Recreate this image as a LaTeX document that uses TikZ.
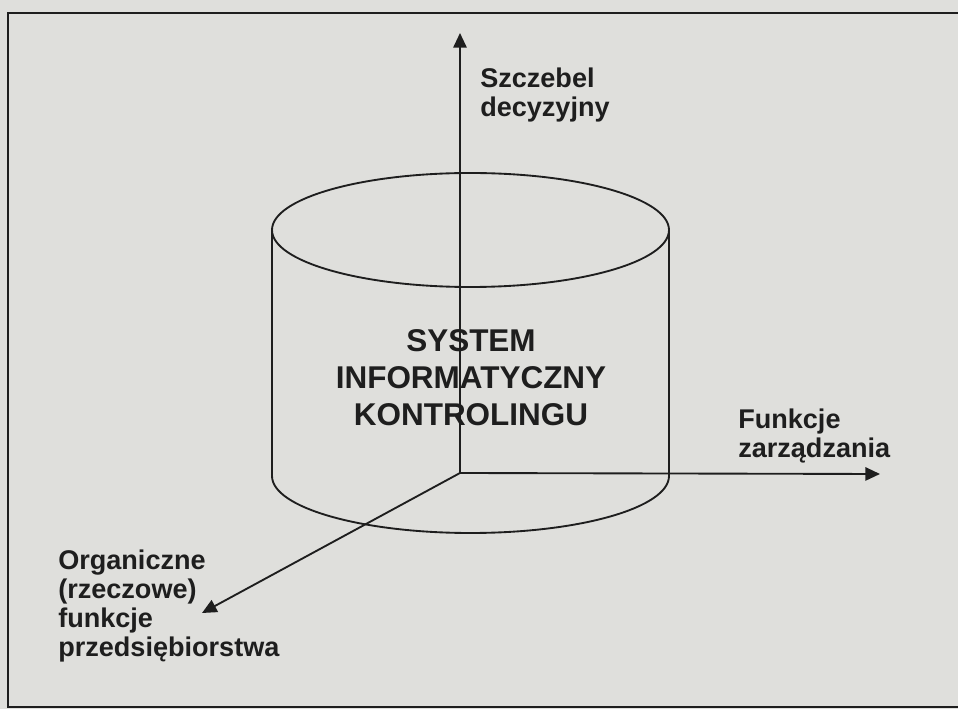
\documentclass[tikz,border=0pt]{standalone}
\usepackage{fontspec}
\setmainfont{Liberation Sans}
\usetikzlibrary{arrows.meta}
\definecolor{paper}{RGB}{223,223,220}
\definecolor{ink}{RGB}{30,30,30}
\tikzset{
  axis/.style={draw=ink, line width=1.4pt, -{Triangle[length=11pt,width=10pt]}},
  body/.style={draw=ink, line width=1.4pt},
  frameline/.style={draw=ink, line width=1.8pt},
  lbl/.style={text=ink, inner sep=0pt, align=left, font=\bfseries\fontsize{20.3}{21.8}\selectfont},
  title/.style={text=ink, inner sep=0pt, align=center, font=\bfseries\fontsize{23.6}{27.8}\selectfont}
}
\begin{document}
\begin{tikzpicture}[x=0.75pt, y=-0.75pt]
  % page and frame
  \fill[paper] (0,0) rectangle (958,709);
  \useasboundingbox (0,0) rectangle (958,709);
  \draw[frameline] (958,13) -- (8,13) -- (8,707) -- (958,707);

  % cylinder
  \draw[body] (470.5,230) ellipse [x radius=198.5, y radius=57];
  \draw[body] (272,230) -- (272,476)
      arc [start angle=180, end angle=0, x radius=198.5, y radius=57]
      -- (669,230);

  % axes
  \coordinate (o) at (460,473);
  \coordinate (up) at (460,33);
  \coordinate (right) at (880,474);
  \coordinate (front) at (202,613);
  \draw[axis] (o) -- (up);
  \draw[axis] (o) -- (right);
  \draw[axis] (o) -- (front);

  % labels (anchored at the baseline of their last line)
  \node[lbl, anchor=base west] (lvl) at (480,117) {Szczebel\\decyzyjny};
  \node[lbl, anchor=base west] (fun) at (738,458) {Funkcje\\zarządzania};
  \node[lbl, anchor=base west] (org) at (58,657) {Organiczne\\(rzeczowe)\\funkcje\\przedsiębiorstwa};
  \node[title] (sys) at (471,378) {SYSTEM\\INFORMATYCZNY\\KONTROLINGU};
\end{tikzpicture}
\end{document}
